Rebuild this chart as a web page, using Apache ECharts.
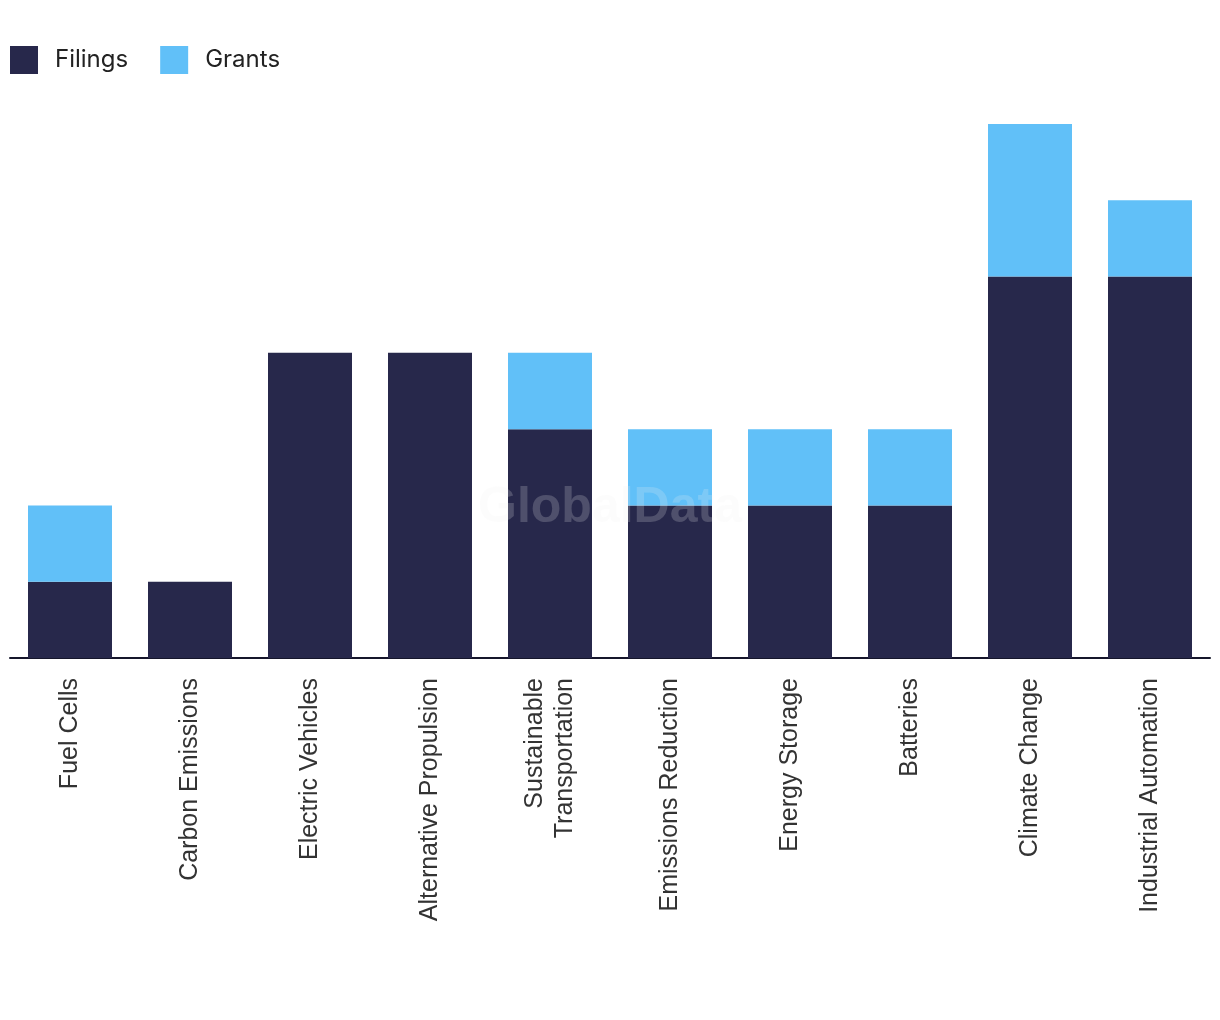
<!DOCTYPE html>
<html><head><meta charset="utf-8">
<script src="https://cdn.jsdelivr.net/npm/echarts@6/dist/echarts.min.js"></script>
<style>html,body{margin:0;padding:0;background:#fff}#c{width:1220px;height:1020px}</style>
</head><body><div id="c"></div>
<script>
const categories = ["Fuel Cells","Carbon Emissions","Electric Vehicles","Alternative Propulsion","Sustainable\nTransportation","Emissions Reduction","Energy Storage","Batteries","Climate Change","Industrial Automation"];
const filings = [1,1,4,4,3,2,2,2,5,5];
const grants = [1,0,0,0,1,1,1,1,2,1];

const chart = echarts.init(document.getElementById('c'));
chart.setOption({
  animation:false,
  backgroundColor:'#fff',
  legend:{left:5, top:41, itemWidth:28, itemHeight:28, itemGap:32, icon:'rect',
    textStyle:{fontFamily:'Inter', fontSize:24, color:'#222', padding:[0,0,0,12]},
    data:['Filings','Grants']},
  grid:{left:10, right:10, top:124, bottom:362, containLabel:false},
  xAxis:{type:'category', data:categories,
    axisLine:{lineStyle:{color:'#15162b', width:2}},
    axisTick:{show:false},
    axisLabel:{rotate:90, margin:20, fontFamily:'Liberation Sans', fontSize:25, color:'#333', lineHeight:30, interval:0}},
  yAxis:{type:'value', min:0, max:7, interval:1, show:false, splitLine:{show:false}},
  series:[
    {name:'Filings', type:'bar', stack:'a', data:filings, barWidth:'70%', itemStyle:{color:'#27284b'}},
    {name:'Grants', type:'bar', stack:'a', data:grants, barWidth:'70%', itemStyle:{color:'#61c0f8'}}
  ],
  graphic:[{type:'text', left:'center', top:483, z:100,
    style:{text:'GlobalData', font:'bold 50px "Liberation Sans"', fill:'rgba(240,240,240,0.2)'}}]
});
</script></body></html>
